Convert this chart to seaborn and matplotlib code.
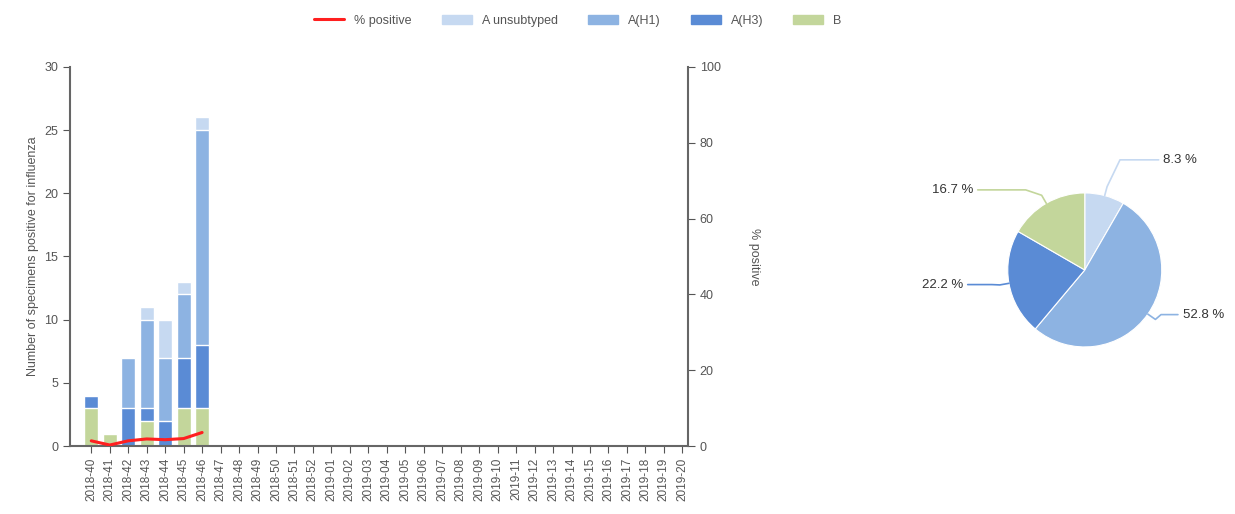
import numpy as np
import pandas as pd
import matplotlib
matplotlib.use("Agg")
import matplotlib.pyplot as plt
import seaborn as sns
from matplotlib.lines import Line2D
from matplotlib.patches import Patch

weeks = ["2018-%d" % w for w in range(40, 53)] + ["2019-%02d" % w for w in range(1, 21)]
n_data = 7
b_vals = [3, 1, 0, 2, 0, 3, 3]
h3_vals = [1, 0, 3, 1, 2, 4, 5]
h1_vals = [0, 0, 4, 7, 5, 5, 17]
unsub_vals = [0, 0, 0, 1, 3, 1, 1]
pct_positive = [1.4, 0.3, 1.4, 1.9, 1.7, 2.0, 3.6]

pie_labels = ["A unsubtyped", "A(H1)", "A(H3)", "B"]
pie_vals = [sum(unsub_vals), sum(h1_vals), sum(h3_vals), sum(b_vals)]

c_unsub = "#c6d9f1"
c_h1 = "#8db3e2"
c_h3 = "#5a8bd5"
c_b = "#c3d69b"
c_line = "#ff1f1f"
grey = "#555555"

sns.set_style("white")
plt.rcParams["font.family"] = ["Liberation Sans", "DejaVu Sans"]

fig = plt.figure(figsize=(12.35, 5.14), dpi=100)
ax = fig.add_axes([0.0567, 0.132, 0.5003, 0.738])

pad = [0] * (len(weeks) - n_data)
b = np.array(b_vals + pad)
h3 = np.array(h3_vals + pad)
h1 = np.array(h1_vals + pad)
un = np.array(unsub_vals + pad)
df = pd.DataFrame({"week": weeks, "B": b, "H3": b + h3, "H1": b + h3 + h1, "UN": b + h3 + h1 + un})

for col, c in [("UN", c_unsub), ("H1", c_h1), ("H3", c_h3), ("B", c_b)]:
    sns.barplot(data=df, x="week", y=col, color=c, width=0.75, ax=ax, saturation=1)

ax.set_xlim(-1.15, len(weeks) - 0.7)
ax.set_ylim(0, 30)
ax.set_yticks([0, 5, 10, 15, 20, 25, 30])
ax.set_xlabel("")
ax.set_ylabel("Number of specimens positive for influenza", fontsize=9, color=grey)
ax.tick_params(axis="x", rotation=90, labelsize=8.5, colors=grey, length=5, direction="out", bottom=True)
ax.tick_params(axis="y", labelsize=9, colors=grey, length=5, direction="out", left=True)
for s in ["top", "right"]:
    ax.spines[s].set_visible(False)
for s in ["left", "bottom"]:
    ax.spines[s].set_color("#666666")
    ax.spines[s].set_linewidth(1.5)

ax2 = ax.twinx()
ldf = pd.DataFrame({"x": np.arange(n_data), "pct": pct_positive})
sns.lineplot(data=ldf, x="x", y="pct", color=c_line, linewidth=2.2, ax=ax2)
ax2.set_ylim(0, 100)
ax2.set_yticks([0, 20, 40, 60, 80, 100])
ax2.set_ylabel("% positive", fontsize=9, color=grey, rotation=270, labelpad=28)
ax2.tick_params(axis="y", labelsize=9, colors=grey, length=5, direction="out", right=True)
ax2.set_xlabel("")
for s in ["top", "left", "bottom"]:
    ax2.spines[s].set_visible(False)
ax2.spines["right"].set_color("#666666")
ax2.spines["right"].set_linewidth(1.5)

handles = [Line2D([], [], color=c_line, lw=2.2),
           Patch(color=c_unsub), Patch(color=c_h1), Patch(color=c_h3), Patch(color=c_b)]
fig.legend(handles, ["% positive", "A unsubtyped", "A(H1)", "A(H3)", "B"],
           loc="center", bbox_to_anchor=(0.468, 0.96), ncol=5, frameon=False,
           fontsize=9, labelcolor=grey, handlelength=2.4, columnspacing=2.4)

pax = fig.add_axes([0.816, 0.325, 0.1247, 0.2996])
pie_cols = [c_unsub, c_h1, c_h3, c_b]
wedges, _ = pax.pie(pie_vals, colors=pie_cols, startangle=90, counterclock=False,
                    radius=1.0, wedgeprops=dict(linewidth=0.8, edgecolor="white"))
pax.set_aspect("equal")
pax.set_xlim(-1.0, 1.0)
pax.set_ylim(-1.0, 1.0)
label_pos = [(1.02, 1.43), (1.27, -0.58), (-1.58, -0.19), (-1.45, 1.04)]
for w, v, (lx, ly), c in zip(wedges, pie_vals, label_pos, pie_cols):
    ang = np.deg2rad((w.theta1 + w.theta2) / 2)
    ex, ey = np.cos(ang), np.sin(ang)
    mx, my = 1.12 * ex, 1.12 * ey
    ha = "left" if lx > 0 else "right"
    endx = lx - 0.06 if lx > 0 else lx + 0.06
    kx = mx + (endx - mx) * 0.25
    pax.plot([ex, mx, kx, endx], [ey, my, ly, ly], color=c, lw=1.2, clip_on=False)
    pax.text(lx, ly, "%.1f %%" % (100 * v / sum(pie_vals)), ha=ha, va="center",
             fontsize=9.5, color="#333333")

fig.savefig("out.png", dpi=100)
